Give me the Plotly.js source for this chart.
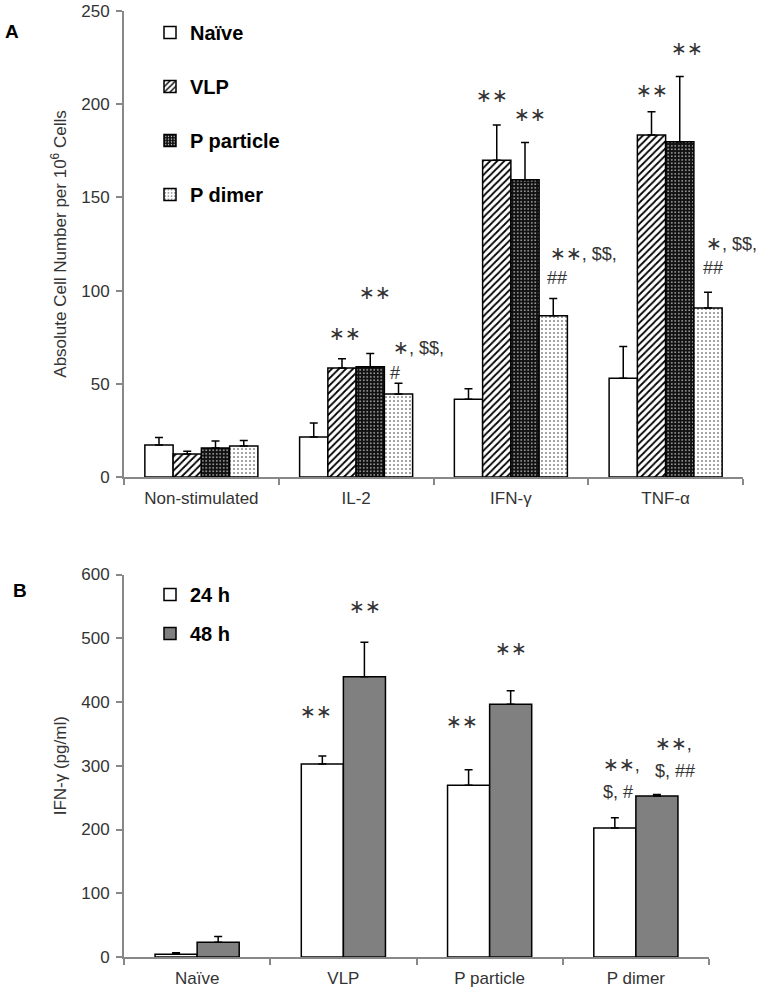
<!DOCTYPE html>
<html><head><meta charset="utf-8">
<script src="https://cdn.plot.ly/plotly-3.0.1.min.js"></script>
<style>html,body{margin:0;padding:0;background:#fff}#chart{width:758px;height:992px}</style>
</head><body><div id="chart"></div>
<script>
// ---------- Panel A data ----------
const categoriesA = ["Non-stimulated", "IL-2", "IFN-γ", "TNF-α"];
const seriesA = ["Naïve", "VLP", "P particle", "P dimer"];
const naiveA = [17.2, 21.5, 41.7, 53.0];
const vlpA = [12.3, 58.5, 169.9, 183.5];
const pparticleA = [15.6, 59.2, 159.5, 179.9];
const pdimerA = [16.6, 44.5, 86.5, 90.7];
const naiveErrA = [4.0, 7.5, 5.7, 17.0];
const vlpErrA = [1.5, 5.0, 19.0, 12.5];
const pparticleErrA = [3.7, 7.0, 20.0, 35.0];
const pdimerErrA = [3.0, 5.8, 9.2, 8.4];
const yTicksA = [0, 50, 100, 150, 200, 250];

// ---------- Panel B data ----------
const categoriesB = ["Naïve", "VLP", "P particle", "P dimer"];
const seriesB = ["24 h", "48 h"];
const h24B = [4.2, 302.7, 269.3, 202.4];
const h48B = [23.0, 439.7, 396.4, 252.5];
const h24ErrB = [2.5, 12.6, 24.5, 16.0];
const h48ErrB = [9.0, 54.0, 21.4, 2.5];
const yTicksB = [0, 100, 200, 300, 400, 500, 600];

// ---------- significance labels ----------
const ST = n => '<span style="font-family:DejaVu Sans;font-size:19px">' + '∗'.repeat(n) + '</span>';
const sigA = [
  [ST(2), 0.929, 77, 'center'],
  [ST(2), 1.123, 99, 'center'],
  [ST(1) + ', $$,', 1.227, 70, 'left'],
  ['#', 1.248, 55.6, 'center'],
  [ST(2), 1.881, 205, 'center'],
  [ST(2), 2.124, 195, 'center'],
  [ST(2) + ', $$,', 2.237, 120, 'left'],
  ['##', 2.297, 106.6, 'center'],
  [ST(2), 2.911, 207.6, 'center'],
  [ST(2), 3.137, 230, 'center'],
  [ST(1) + ', $$,', 3.248, 125.4, 'left'],
  ['##', 3.306, 112, 'center']
];
const sigB = [
  [ST(2), 0.812, 386.4, 'center'],
  [ST(2), 1.151, 550.6, 'center'],
  [ST(2), 1.812, 370.7, 'center'],
  [ST(2), 2.146, 485.2, 'center'],
  [ST(2) + ',', 2.760, 302.7, 'left'],
  ['$, #', 2.760, 258.8, 'left'],
  [ST(2) + ',', 3.116, 335, 'left'],
  ['$, ##', 3.116, 292, 'left']
];

const W = 758, H = 992;
const FONT = 'Liberation Sans, Arial, sans-serif';
const line = {color: '#000', width: 1.5};
const errStyle = {color: '#000', thickness: 1.5, width: 4};

function errArr(a) { return {type: 'data', array: a, arrayminus: a.map(() => 0), symmetric: false, ...errStyle}; }

const wA = 0.1826;
const patA = [
  {shape: '', bgcolor: '#fff'},
  {shape: '/', bgcolor: '#fff', fgcolor: '#000', size: 5, solidity: 0.35},
  {shape: '.', bgcolor: '#111', fgcolor: '#fff', size: 3.5, solidity: 0.15},
  {shape: '.', bgcolor: '#fff', fgcolor: '#222', size: 4, solidity: 0.12}
];
const valsA = [naiveA, vlpA, pparticleA, pdimerA];
const errsA = [naiveErrA, vlpErrA, pparticleErrA, pdimerErrA];

const traces = [];
seriesA.forEach((s, i) => {
  traces.push({
    type: 'bar', x: categoriesA, y: valsA[i], name: s, xaxis: 'x', yaxis: 'y',
    width: wA, offset: -2 * wA + i * wA, legend: 'legend', legendgroup: 'a' + i,
    marker: {color: '#fff', line: line, pattern: patA[i]},
    error_y: errArr(errsA[i]), hoverinfo: 'skip'
  });
});

const wB = 0.2877;
const valsB = [h24B, h48B];
const errsB = [h24ErrB, h48ErrB];
const colB = ['#ffffff', '#808080'];
seriesB.forEach((s, i) => {
  traces.push({
    type: 'bar', x: categoriesB, y: valsB[i], name: s, xaxis: 'x2', yaxis: 'y2',
    width: wB, offset: -wB + i * wB, legend: 'legend2', legendgroup: 'b' + i,
    marker: {color: colB[i], line: line},
    error_y: errArr(errsB[i]), hoverinfo: 'skip'
  });
});

const tickfont = {family: FONT, size: 17, color: '#333'};
const xBase = {
  type: 'category', range: [-0.5, 3.5], showline: true, linecolor: '#888', linewidth: 2,
  ticks: 'outside', tickson: 'boundaries', ticklen: 6, tickwidth: 2, tickcolor: '#888',
  tickfont: tickfont, showgrid: false, zeroline: false, fixedrange: true, ticklabelstandoff: 5
};
const yBase = {
  showline: true, linecolor: '#888', linewidth: 2, ticks: 'outside', ticklen: 6,
  tickwidth: 2, tickcolor: '#888', tickfont: tickfont, showgrid: false, zeroline: false,
  fixedrange: true, tickmode: 'array', ticklabelstandoff: 3
};

const annotations = [];
sigA.forEach(a => annotations.push({xref: 'x', yref: 'y', x: a[1], y: a[2], text: a[0], xanchor: a[3], yanchor: 'middle', showarrow: false, font: {family: FONT, size: 18, color: '#333'}}));
sigB.forEach(a => annotations.push({xref: 'x2', yref: 'y2', x: a[1], y: a[2], text: a[0], xanchor: a[3], yanchor: 'middle', showarrow: false, font: {family: FONT, size: 18, color: '#333'}}));
annotations.push({xref: 'paper', yref: 'paper', x: 12 / W, y: 1 - 32 / H, text: '<b>A</b>', showarrow: false, xanchor: 'center', yanchor: 'middle', font: {family: FONT, size: 19, color: '#000'}});
annotations.push({xref: 'paper', yref: 'paper', x: 20 / W, y: 1 - 590 / H, text: '<b>B</b>', showarrow: false, xanchor: 'center', yanchor: 'middle', font: {family: FONT, size: 19, color: '#000'}});

const layout = {
  width: W, height: H, margin: {l: 0, r: 0, t: 0, b: 0},
  paper_bgcolor: '#fff', plot_bgcolor: '#fff',
  barmode: 'overlay', showlegend: true, hovermode: false,
  xaxis: {...xBase, domain: [124 / W, 743 / W], anchor: 'y'},
  yaxis: {...yBase, domain: [1 - 477 / H, 1 - 11 / H], anchor: 'x', range: [0, 250], tickvals: yTicksA, ticktext: yTicksA.map(String),
    title: {text: 'Absolute Cell Number per 10<sup>6</sup> Cells', font: {family: FONT, size: 17, color: '#333'}, standoff: 10}},
  xaxis2: {...xBase, domain: [124 / W, 709 / W], anchor: 'y2'},
  yaxis2: {...yBase, domain: [1 - 957 / H, 1 - 574.5 / H], anchor: 'x2', range: [0, 600], tickvals: yTicksB, ticktext: yTicksB.map(String),
    title: {text: 'IFN-γ (pg/ml)', font: {family: FONT, size: 17, color: '#333'}, standoff: 10}},
  legend: {x: 150 / W, xanchor: 'left', y: 1 - 13 / H, yanchor: 'top', bgcolor: 'rgba(0,0,0,0)',
    font: {family: FONT, size: 20, color: '#000', weight: 'bold'}, tracegroupgap: 25, traceorder: 'grouped'},
  legend2: {x: 150 / W, xanchor: 'left', y: 1 - 575 / H, yanchor: 'top', bgcolor: 'rgba(0,0,0,0)',
    font: {family: FONT, size: 20, color: '#000', weight: 'bold'}, tracegroupgap: 10, traceorder: 'grouped'},
  annotations: annotations
};

Plotly.newPlot('chart', traces, layout, {displayModeBar: false, staticPlot: true});
</script>
</body></html>
